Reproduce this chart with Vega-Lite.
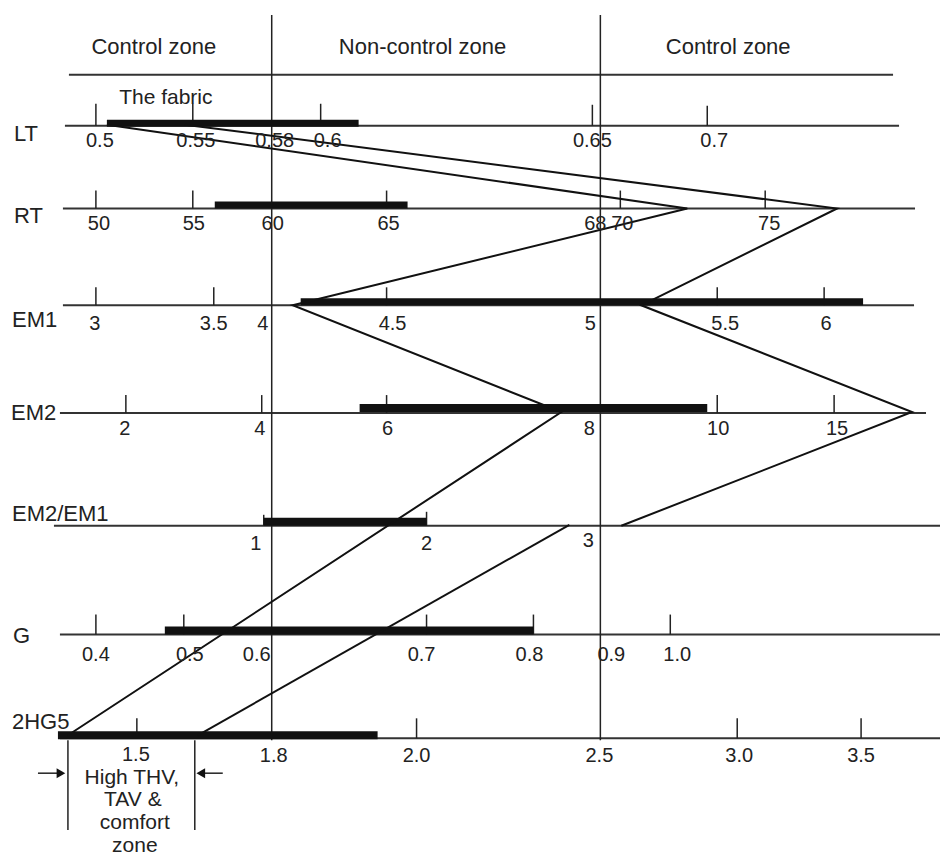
{
  "$schema": "https://vega.github.io/schema/vega-lite/v6.json",
  "width": 941,
  "height": 856,
  "autosize": {"type": "fit", "contains": "padding"},
  "padding": 0,
  "background": "white",
  "config": {"view": {"stroke": null}, "text": {"font": "Liberation Sans", "color": "#222"}},
  "datasets": {
    "axes": [
      {"name": "header", "x": 69, "y": 75, "x2": 894, "y2": 75},
      {"name": "LT", "x": 65, "y": 126, "x2": 900, "y2": 126},
      {"name": "RT", "x": 63, "y": 209, "x2": 916, "y2": 209},
      {"name": "EM1", "x": 63, "y": 306, "x2": 915, "y2": 306},
      {"name": "EM2", "x": 60, "y": 414, "x2": 927, "y2": 414},
      {"name": "EM2/EM1", "x": 54, "y": 527, "x2": 941, "y2": 527},
      {"name": "G", "x": 60, "y": 636, "x2": 941, "y2": 636},
      {"name": "2HG5", "x": 60, "y": 740, "x2": 941, "y2": 740}
    ],
    "dividers": [
      {"name": "left boundary", "x": 272, "y": 15, "x2": 272, "y2": 742},
      {"name": "right boundary", "x": 601, "y": 15, "x2": 601, "y2": 742},
      {"name": "zone left", "x": 68, "y": 742, "x2": 68, "y2": 832},
      {"name": "zone right", "x": 195, "y": 742, "x2": 195, "y2": 832},
      {"name": "arrow left", "x": 38, "y": 775, "x2": 58, "y2": 775},
      {"name": "arrow right", "x": 223, "y": 775, "x2": 204, "y2": 775}
    ],
    "arrowheads": [
      {"x": 61, "y": 775, "dir": "right"},
      {"x": 201, "y": 775, "dir": "left"}
    ],
    "ticks": [
      {"row": "LT", "x": 96, "y": 126, "y2": 104},
      {"row": "LT", "x": 193, "y": 126, "y2": 104},
      {"row": "LT", "x": 321, "y": 126, "y2": 104},
      {"row": "LT", "x": 593, "y": 126, "y2": 105},
      {"row": "LT", "x": 708, "y": 126, "y2": 106},
      {"row": "RT", "x": 96, "y": 209, "y2": 191},
      {"row": "RT", "x": 193, "y": 209, "y2": 191},
      {"row": "RT", "x": 387, "y": 209, "y2": 191},
      {"row": "RT", "x": 621, "y": 209, "y2": 191},
      {"row": "RT", "x": 766, "y": 209, "y2": 191},
      {"row": "EM1", "x": 96, "y": 306, "y2": 288},
      {"row": "EM1", "x": 214, "y": 306, "y2": 288},
      {"row": "EM1", "x": 387, "y": 306, "y2": 288},
      {"row": "EM1", "x": 718, "y": 306, "y2": 288},
      {"row": "EM1", "x": 825, "y": 306, "y2": 288},
      {"row": "EM2", "x": 126, "y": 414, "y2": 396},
      {"row": "EM2", "x": 262, "y": 414, "y2": 396},
      {"row": "EM2", "x": 387, "y": 414, "y2": 396},
      {"row": "EM2", "x": 718, "y": 414, "y2": 396},
      {"row": "EM2", "x": 835, "y": 414, "y2": 396},
      {"row": "EM2/EM1", "x": 264, "y": 527, "y2": 516},
      {"row": "EM2/EM1", "x": 427, "y": 527, "y2": 513},
      {"row": "G", "x": 96, "y": 636, "y2": 616},
      {"row": "G", "x": 184, "y": 636, "y2": 616},
      {"row": "G", "x": 427, "y": 636, "y2": 616},
      {"row": "G", "x": 534, "y": 636, "y2": 616},
      {"row": "G", "x": 671, "y": 636, "y2": 616},
      {"row": "2HG5", "x": 137, "y": 740, "y2": 720},
      {"row": "2HG5", "x": 417, "y": 740, "y2": 720},
      {"row": "2HG5", "x": 738, "y": 740, "y2": 720},
      {"row": "2HG5", "x": 862, "y": 740, "y2": 720}
    ],
    "bars": [
      {"row": "LT", "x": 107, "x2": 359, "y": 120, "y2": 127},
      {"row": "RT", "x": 215, "x2": 408, "y": 202, "y2": 209},
      {"row": "EM1", "x": 301, "x2": 864, "y": 299, "y2": 306},
      {"row": "EM2", "x": 360, "x2": 708, "y": 405, "y2": 413},
      {"row": "EM2/EM1", "x": 264, "x2": 427, "y": 519, "y2": 527},
      {"row": "G", "x": 165, "x2": 534, "y": 628, "y2": 636},
      {"row": "2HG5", "x": 58, "x2": 378, "y": 733, "y2": 741}
    ],
    "paths": [
      {"path": "A", "i": 1, "x": 107, "y": 125},
      {"path": "A", "i": 2, "x": 688, "y": 209},
      {"path": "A", "i": 3, "x": 293, "y": 306},
      {"path": "A", "i": 4, "x": 562, "y": 413},
      {"path": "A", "i": 5, "x": 68, "y": 737},
      {"path": "B", "i": 1, "x": 185, "y": 125},
      {"path": "B", "i": 2, "x": 838, "y": 209},
      {"path": "B", "i": 3, "x": 642, "y": 306},
      {"path": "B", "i": 4, "x": 913, "y": 413},
      {"path": "B", "i": 5, "x": 622, "y": 527},
      {"path": "C", "i": 1, "x": 570, "y": 526},
      {"path": "C", "i": 2, "x": 198, "y": 737}
    ],
    "labels": [
      {"role": "header", "text": "Control zone", "x": 154, "y": 47},
      {"role": "header", "text": "Non-control zone", "x": 423, "y": 47},
      {"role": "header", "text": "Control zone", "x": 729, "y": 47},
      {"role": "row", "text": "LT", "x": 14, "y": 134},
      {"role": "row", "text": "RT", "x": 14, "y": 217},
      {"role": "row", "text": "EM1", "x": 12, "y": 321},
      {"role": "row", "text": "EM2", "x": 11, "y": 414},
      {"role": "row", "text": "EM2/EM1", "x": 12, "y": 515},
      {"role": "row", "text": "G", "x": 13, "y": 637},
      {"role": "row", "text": "2HG5", "x": 12, "y": 724},
      {"role": "note", "text": "The fabric", "x": 166, "y": 98},
      {"role": "note", "text": "High THV,", "x": 132, "y": 780},
      {"role": "note", "text": "TAV &", "x": 133, "y": 802},
      {"role": "note", "text": "comfort", "x": 135, "y": 825},
      {"role": "note", "text": "zone", "x": 135, "y": 848},
      {"role": "tick", "text": "0.5", "x": 100, "y": 141},
      {"role": "tick", "text": "0.55", "x": 196, "y": 141},
      {"role": "tick", "text": "0.58", "x": 275, "y": 141},
      {"role": "tick", "text": "0.6", "x": 328, "y": 141},
      {"role": "tick", "text": "0.65", "x": 593, "y": 141},
      {"role": "tick", "text": "0.7", "x": 715, "y": 141},
      {"role": "tick", "text": "50", "x": 99, "y": 225},
      {"role": "tick", "text": "55", "x": 194, "y": 225},
      {"role": "tick", "text": "60", "x": 273, "y": 225},
      {"role": "tick", "text": "65", "x": 389, "y": 225},
      {"role": "tick", "text": "68", "x": 596, "y": 225},
      {"role": "tick", "text": "70", "x": 623, "y": 225},
      {"role": "tick", "text": "75", "x": 770, "y": 225},
      {"role": "tick", "text": "3", "x": 95, "y": 325},
      {"role": "tick", "text": "3.5", "x": 214, "y": 325},
      {"role": "tick", "text": "4", "x": 263, "y": 325},
      {"role": "tick", "text": "4.5", "x": 393, "y": 325},
      {"role": "tick", "text": "5", "x": 591, "y": 325},
      {"role": "tick", "text": "5.5", "x": 726, "y": 325},
      {"role": "tick", "text": "6", "x": 827, "y": 325},
      {"role": "tick", "text": "2", "x": 125, "y": 430},
      {"role": "tick", "text": "4", "x": 260, "y": 430},
      {"role": "tick", "text": "6", "x": 388, "y": 430},
      {"role": "tick", "text": "8", "x": 590, "y": 430},
      {"role": "tick", "text": "10", "x": 719, "y": 430},
      {"role": "tick", "text": "15", "x": 838, "y": 430},
      {"role": "tick", "text": "1", "x": 256, "y": 545},
      {"role": "tick", "text": "2", "x": 427, "y": 545},
      {"role": "tick", "text": "3", "x": 589, "y": 542},
      {"role": "tick", "text": "0.4", "x": 96, "y": 657},
      {"role": "tick", "text": "0.5", "x": 190, "y": 657},
      {"role": "tick", "text": "0.6", "x": 257, "y": 657},
      {"role": "tick", "text": "0.7", "x": 422, "y": 657},
      {"role": "tick", "text": "0.8", "x": 530, "y": 657},
      {"role": "tick", "text": "0.9", "x": 612, "y": 657},
      {"role": "tick", "text": "1.0", "x": 678, "y": 657},
      {"role": "tick", "text": "1.5", "x": 136, "y": 757},
      {"role": "tick", "text": "1.8", "x": 274, "y": 758},
      {"role": "tick", "text": "2.0", "x": 417, "y": 758},
      {"role": "tick", "text": "2.5", "x": 600, "y": 758},
      {"role": "tick", "text": "3.0", "x": 740, "y": 758},
      {"role": "tick", "text": "3.5", "x": 862, "y": 758}
    ]
  },
  "layer": [
    {
      "data": {"name": "axes"},
      "mark": {"type": "rule", "color": "#333", "strokeWidth": 2},
      "encoding": {
        "x": {"field": "x", "type": "quantitative", "scale": {"domain": [0, 941], "nice": false, "zero": false}, "axis": null},
        "y": {"field": "y", "type": "quantitative", "scale": {"domain": [0, 856], "reverse": true, "nice": false, "zero": false}, "axis": null},
        "x2": {"field": "x2"},
        "y2": {"field": "y2"}
      }
    },
    {
      "data": {"name": "dividers"},
      "mark": {"type": "rule", "color": "#222", "strokeWidth": 1.5},
      "encoding": {
        "x": {"field": "x", "type": "quantitative", "axis": null},
        "y": {"field": "y", "type": "quantitative", "axis": null},
        "x2": {"field": "x2"},
        "y2": {"field": "y2"}
      }
    },
    {
      "data": {"name": "ticks"},
      "mark": {"type": "rule", "color": "#222", "strokeWidth": 1.5},
      "encoding": {
        "x": {"field": "x", "type": "quantitative", "axis": null},
        "y": {"field": "y", "type": "quantitative", "axis": null},
        "y2": {"field": "y2"}
      }
    },
    {
      "data": {"name": "bars"},
      "mark": {"type": "rect", "color": "#111"},
      "encoding": {
        "x": {"field": "x", "type": "quantitative", "axis": null},
        "x2": {"field": "x2"},
        "y": {"field": "y", "type": "quantitative", "axis": null},
        "y2": {"field": "y2"}
      }
    },
    {
      "data": {"name": "paths"},
      "mark": {"type": "line", "color": "#111", "strokeWidth": 2},
      "encoding": {
        "x": {"field": "x", "type": "quantitative", "axis": null},
        "y": {"field": "y", "type": "quantitative", "axis": null},
        "detail": {"field": "path"},
        "order": {"field": "i", "type": "quantitative"}
      }
    },
    {
      "data": {"name": "arrowheads"},
      "mark": {"type": "point", "filled": true, "color": "#111", "size": 100, "opacity": 1},
      "encoding": {
        "x": {"field": "x", "type": "quantitative", "axis": null},
        "y": {"field": "y", "type": "quantitative", "axis": null},
        "shape": {"field": "dir", "type": "nominal", "scale": {"domain": ["right", "left"], "range": ["triangle-right", "triangle-left"]}, "legend": null}
      }
    },
    {
      "data": {"name": "labels"},
      "transform": [{"filter": "datum.role === 'header'"}],
      "mark": {"type": "text", "fontSize": 22, "align": "center", "baseline": "middle"},
      "encoding": {
        "x": {"field": "x", "type": "quantitative", "axis": null},
        "y": {"field": "y", "type": "quantitative", "axis": null},
        "text": {"field": "text"}
      }
    },
    {
      "data": {"name": "labels"},
      "transform": [{"filter": "datum.role === 'note'"}],
      "mark": {"type": "text", "fontSize": 21, "align": "center", "baseline": "middle"},
      "encoding": {
        "x": {"field": "x", "type": "quantitative", "axis": null},
        "y": {"field": "y", "type": "quantitative", "axis": null},
        "text": {"field": "text"}
      }
    },
    {
      "data": {"name": "labels"},
      "transform": [{"filter": "datum.role === 'row'"}],
      "mark": {"type": "text", "fontSize": 22, "align": "left", "baseline": "middle"},
      "encoding": {
        "x": {"field": "x", "type": "quantitative", "axis": null},
        "y": {"field": "y", "type": "quantitative", "axis": null},
        "text": {"field": "text"}
      }
    },
    {
      "data": {"name": "labels"},
      "transform": [{"filter": "datum.role === 'tick'"}],
      "mark": {"type": "text", "fontSize": 20, "align": "center", "baseline": "middle"},
      "encoding": {
        "x": {"field": "x", "type": "quantitative", "axis": null},
        "y": {"field": "y", "type": "quantitative", "axis": null},
        "text": {"field": "text"}
      }
    }
  ]
}
